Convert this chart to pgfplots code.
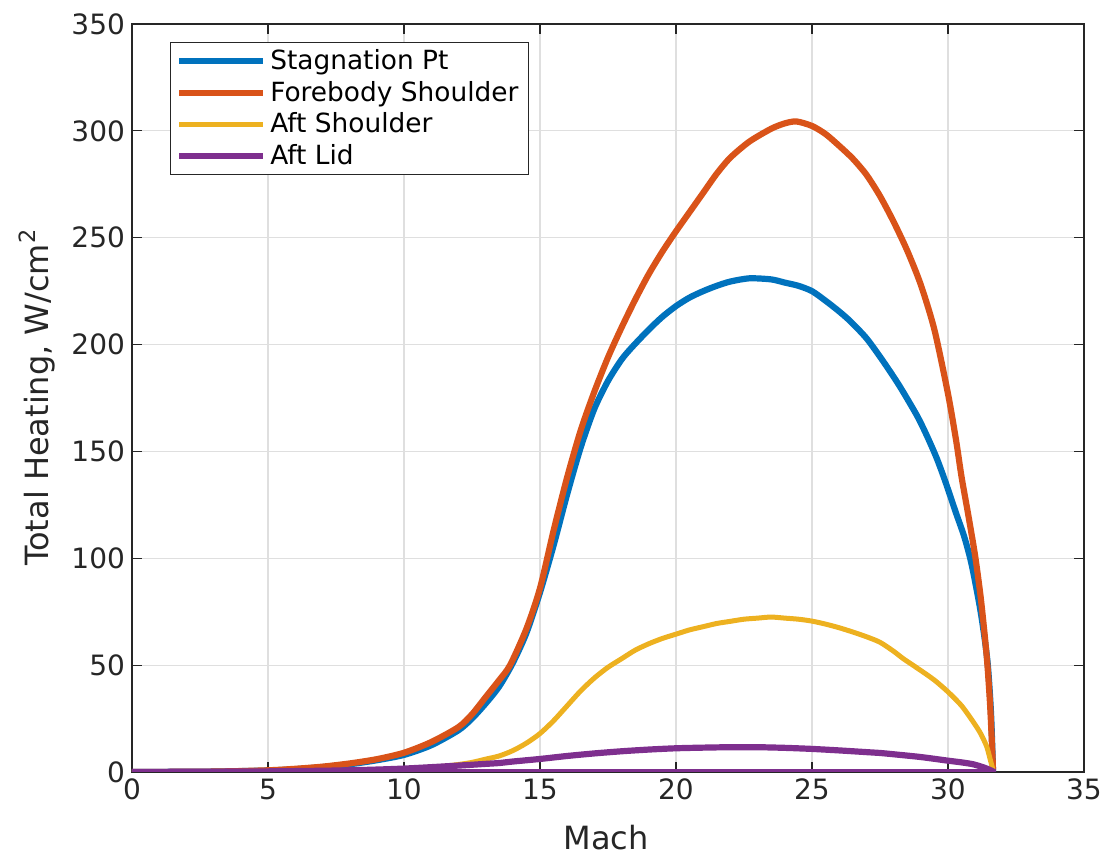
\documentclass[border=0pt]{standalone}
\usepackage{fontspec}
\setmainfont{DejaVu Sans}
\usepackage{pgfplots}
\pgfplotsset{compat=1.18}

\definecolor{mblue}{RGB}{0,114,189}
\definecolor{morange}{RGB}{217,83,25}
\definecolor{myellow}{RGB}{237,177,32}
\definecolor{mpurple}{RGB}{126,47,142}
\definecolor{axgray}{RGB}{38,38,38}

\begin{document}
\begin{tikzpicture}
\begin{axis}[
  scale only axis,
  width=476pt, height=374pt,
  xmin=0, xmax=35, ymin=0, ymax=350,
  xtick={0,5,...,35}, ytick={0,50,...,350},
  /pgf/number format/assume math mode=true,
  tick label style={font=\fontsize{14}{16}\selectfont, text=axgray},
  label style={font=\fontsize{16}{19}\selectfont, text=axgray},
  xlabel={Mach},
  ylabel={Total Heating, W/cm\textsuperscript{2}},
  xlabel style={at={(axis description cs:0.498,-0.088)}, anchor=center},
  ylabel style={at={(axis description cs:-0.0998,0.501)}, anchor=center, rotate=0},
  axis line style={axgray, line width=0.6pt},
  tick style={axgray, line width=0.6pt},
  tick align=inside, major tick length=5pt,
  xmajorgrids, ymajorgrids,
  grid style={gray!25, line width=0.6pt},
  legend cell align=left,
  legend style={at={(axis description cs:0.040,0.976)}, anchor=north west,
    font=\fontsize{13.2}{15}\selectfont, draw=axgray, line width=0.6pt,
    inner xsep=3pt, inner ysep=1.5pt, row sep=0.3pt},
  legend image code/.code={\draw[#1, line width=2.8pt] (0pt,0pt) -- (42pt,0pt);},
]
% Stagnation Pt
\addplot[mblue, line width=3.1pt, smooth, tension=0.45] coordinates {
  (0,0)(3,0.2)(5,0.7)(6,1.3)(7,2.3)(8,3.6)(9,5.5)(10,8)(11,12.5)(12,19.5)(12.5,25)
  (13,32)(13.5,40)(14,51)(14.5,65)(15,84)(15.5,106)(16,130)(16.5,152)(17,170)
  (17.5,183)(18,193)(18.4,199)(19,207)(19.5,213)(20,218)(20.5,222)(21,225)
  (21.5,227.5)(22,229.5)(22.7,231)(23.5,230.5)(24,229)(24.5,227.5)(25,225)
  (25.5,220.5)(26,215.5)(26.4,211)(27,203)(27.6,192.5)(28.2,181)(28.85,167)
  (29.2,158)(29.58,147)(29.9,136)(30.3,121)(30.6,110)(30.87,97)(31.2,75)
  (31.45,52)(31.58,28)(31.65,3)(31.65,0)
};
\addlegendentry{Stagnation Pt}
% Forebody Shoulder
\addplot[morange, line width=3.1pt, smooth, tension=0.45] coordinates {
  (0,0)(3,0.2)(5,0.8)(6,1.5)(7,2.5)(8,4)(9,6)(10,9)(11,14)(12,21)(12.5,27)
  (13,35)(13.5,43)(13.9,50)(14.5,67)(15,86)(15.5,113)(16,138)(16.5,160)
  (17,178)(17.5,194)(18,208)(18.5,221)(19,233)(19.5,243.5)(20,253)(20.5,262)
  (21,271)(21.5,280)(22,287.5)(22.7,295)(23.5,301)(24,303.5)(24.43,304.4)
  (25,302.3)(25.5,298.5)(26,293)(26.5,287)(27,279.5)(27.5,269.5)(28,257.5)
  (28.5,244)(29,228)(29.5,207)(30,177)(30.3,155)(30.5,138)(30.75,120)
  (31,101)(31.2,82)(31.35,64)(31.45,50)(31.55,31)(31.62,12)(31.65,3)(31.65,0)
};
\addlegendentry{Forebody Shoulder}
% Aft Shoulder
\addplot[myellow, line width=2.5pt, smooth, tension=0.45] coordinates {
  (0,0)(5,0.1)(8,0.4)(10,1)(11,2)(12,3.5)(12.5,4.5)(13,6)(13.5,7.5)(14,10)
  (14.5,13.5)(15,18)(15.5,24)(16,31)(16.5,38)(17,44)(17.5,49)(18,53)(18.5,57)
  (19,60)(19.5,62.5)(20,64.5)(20.5,66.5)(21,68)(21.5,69.5)(22,70.5)(22.5,71.5)
  (23,72)(23.5,72.5)(24,72)(24.5,71.5)(25,70.6)(25.5,69.2)(26,67.5)(26.5,65.5)
  (27,63.3)(27.5,60.7)(28,56.5)(28.36,53)(29,47.5)(29.5,43)(30,37.5)(30.5,31)
  (30.93,23.4)(31.2,18)(31.42,12)(31.55,6)(31.65,1)(31.65,0)
};
\addlegendentry{Aft Shoulder}
% Aft Lid
\addplot[mpurple, line width=3.1pt, smooth, tension=0.45] coordinates {
  (0,0)(5,0.3)(8,0.8)(10,1.6)(12,3)(13,3.8)(13.5,4.2)(14,4.9)(15,6.1)(16,7.5)
  (17,8.7)(18,9.7)(19,10.5)(20,11.1)(21,11.4)(22,11.6)(23,11.6)(24,11.3)
  (25,10.8)(26,10.1)(27,9.3)(27.5,8.9)(28,8.3)(29,7)(30,5.3)(30.5,4.5)
  (30.93,3.6)(31.3,2.2)(31.5,1.2)(31.65,0.3)(31.65,0)
};
\addlegendentry{Aft Lid}
% return legs along zero
\addplot[mblue, line width=3.1pt, forget plot] coordinates {(31.65,0)(0,0)};
\addplot[morange, line width=3.1pt, forget plot] coordinates {(31.65,0)(0,0)};
\addplot[myellow, line width=2.5pt, forget plot] coordinates {(31.65,0)(0,0)};
\addplot[mpurple, line width=3.1pt, forget plot] coordinates {(31.65,0)(0,0)};
\end{axis}
\pgfresetboundingbox
\path (-66pt,-43pt) rectangle (492pt,386pt);
\end{tikzpicture}
\end{document}
